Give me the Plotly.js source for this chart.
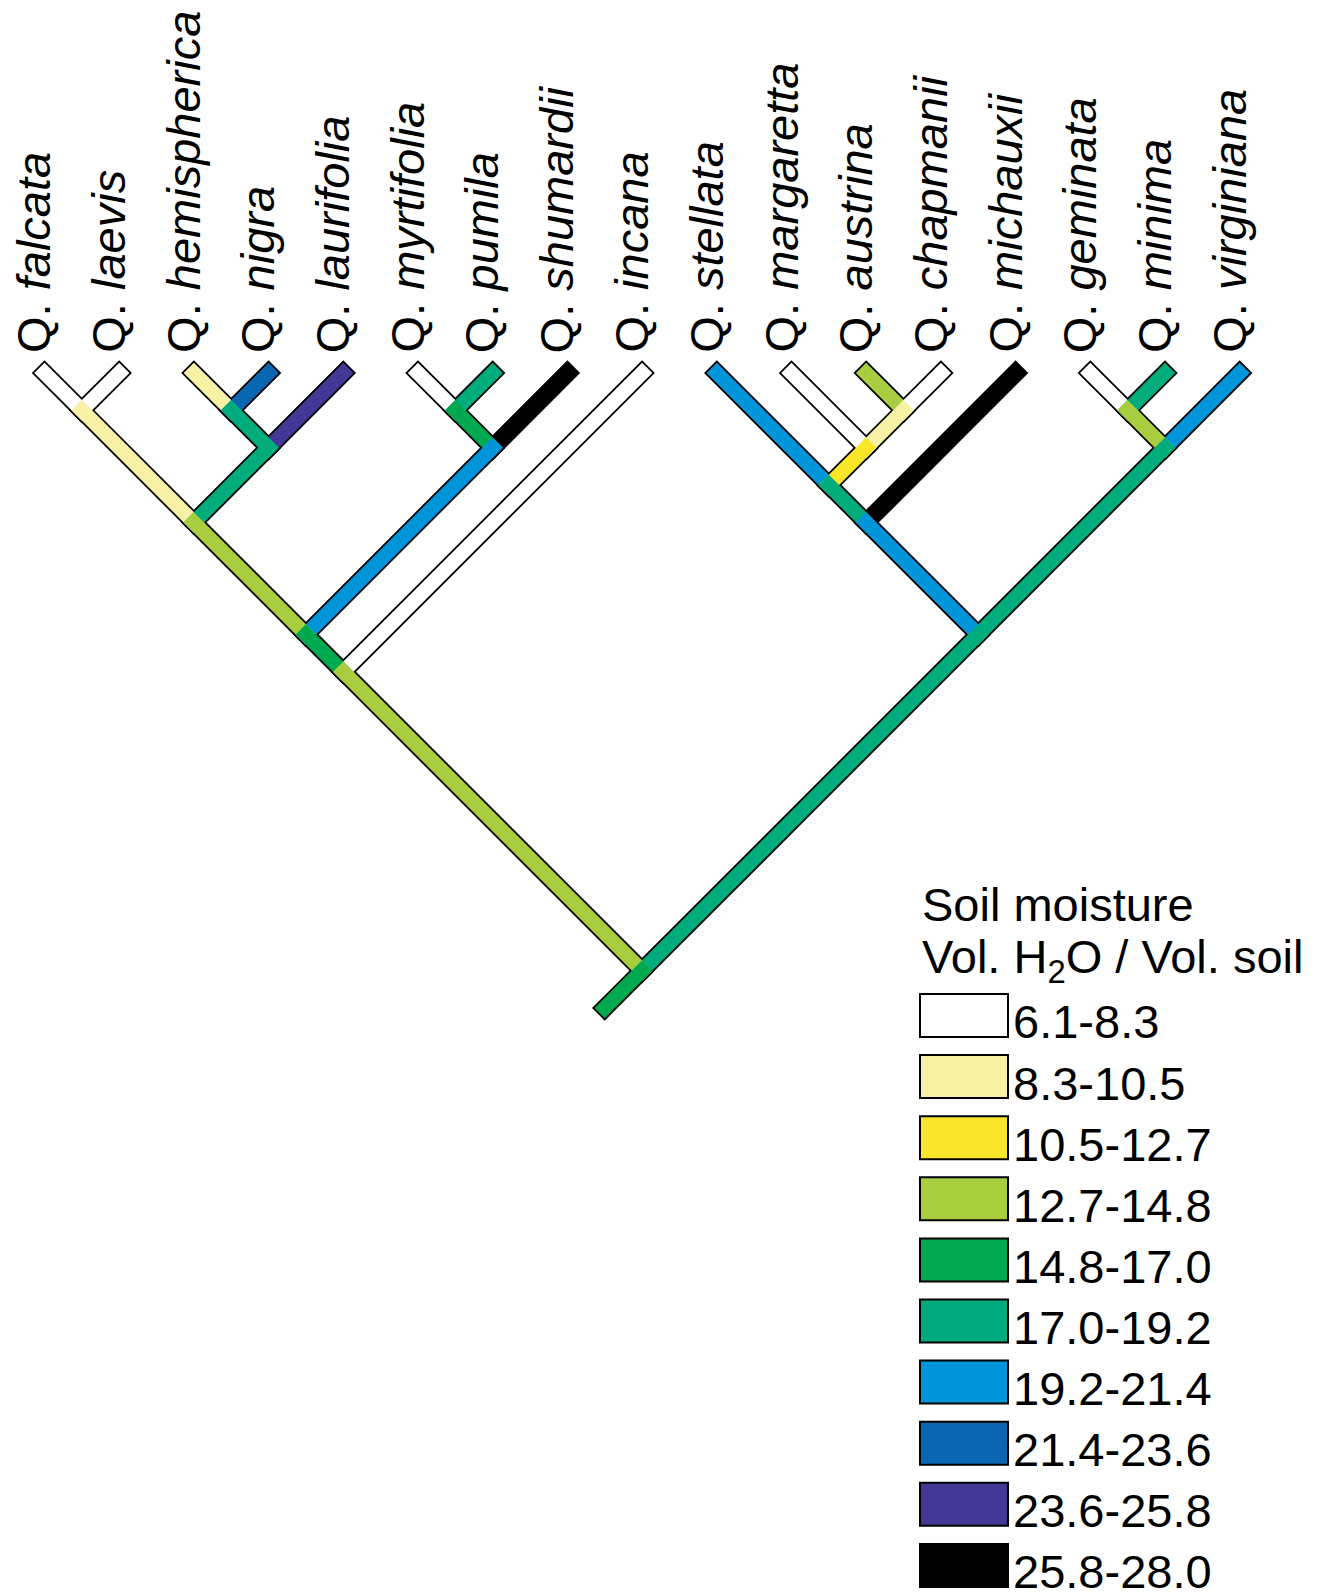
<!DOCTYPE html>
<html>
<head>
<meta charset="utf-8">
<script src="https://cdn.plot.ly/plotly-3.0.1.min.js"></script>
<style>
html,body{margin:0;padding:0;background:#ffffff;}
#chart{width:1324px;height:1593px;}
</style>
</head>
<body>
<div id="chart"></div>
<script>
// ---------------- DATA ----------------
// Tips (left to right) and their soil-moisture class (index into binLabels)
const species = ["falcata","laevis","hemispherica","nigra","laurifolia","myrtifolia","pumila","shumardii","incana",
                 "stellata","margaretta","austrina","chapmanii","michauxii","geminata","minima","virginiana"];
const tipBin  = [0,0,1,7,8,0,5,9,0,6,0,3,0,9,0,5,6];
// Topology; the number after each ")" is the reconstructed class of that internal node
const treeNewick = "(((((falcata,laevis)1,((hemispherica,nigra)5,laurifolia)5)3,((myrtifolia,pumila)4,shumardii)6)4,incana)3," +
                   "(((stellata,(margaretta,(austrina,chapmanii)1)2)5,michauxii)6,((geminata,minima)3,virginiana)5)5)4";
// Legend classes
const binLabels = ["6.1-8.3","8.3-10.5","10.5-12.7","12.7-14.8","14.8-17.0","17.0-19.2","19.2-21.4","21.4-23.6","23.6-25.8","25.8-28.0"];
const binColors = ["#FFFFFF","#F7F1A6","#F9E629","#A8CD3E","#00A94F","#00AB7C","#0094D8","#0B66B2","#433896","#000000"];
const legendTitle = ["Soil moisture","Vol. H<sub>2</sub>O / Vol. soil"];
const genus = "Q.";

// ---------------- LAYOUT CONSTANTS ----------------
const W = 1324, H = 1593;
const U = 74.7;            // px per tip spacing (same in both directions -> 45 degree branches)
const X0 = 44.5, Y0 = 373; // pixel position of first tip
const FILL_W = 14.5, OUT_W = 18;
const STEM = 0.5;          // root stem length (tip units)
const FONT = "Liberation Sans, Arial, Helvetica, sans-serif";
const FS = 47;

// ---------------- TREE ----------------
function parseNewick(str){
  let i = 0;
  function readNode(){
    if(str[i] === '('){
      i++;
      const kids = [readNode()];
      while(str[i] === ','){ i++; kids.push(readNode()); }
      i++; // ')'
      let lab = '';
      while(i < str.length && /[0-9]/.test(str[i])) lab += str[i++];
      return {kids: kids, bin: Number(lab)};
    }
    let name = '';
    while(i < str.length && /[A-Za-z]/.test(str[i])) name += str[i++];
    const t = species.indexOf(name);
    return {kids: [], tip: t, bin: tipBin[t]};
  }
  return readNode();
}
const root = parseNewick(treeNewick);
const allNodes = [];
function place(n, parent){
  n.parent = parent;
  if(n.kids.length === 0){ n.lo = n.tip; n.hi = n.tip; }
  else {
    n.kids.forEach(k => place(k, n));
    n.lo = Math.min.apply(null, n.kids.map(k => k.lo));
    n.hi = Math.max.apply(null, n.kids.map(k => k.hi));
  }
  n.x = (n.lo + n.hi) / 2;
  n.d = (n.hi - n.lo) / 2;
  allNodes.push(n);
}
place(root, null);

const edges = [];
allNodes.forEach(n => {
  if(n.parent) edges.push({x0: n.parent.x, d0: n.parent.d, x1: n.x, d1: n.d, bin: n.bin, order: n.d});
});
edges.push({x0: root.x - STEM, d0: root.d + STEM, x1: root.x, d1: root.d, bin: root.bin, order: Infinity});
edges.sort((a, b) => a.order - b.order);

function seg(e, w){
  const dx = e.x1 - e.x0, dd = e.d1 - e.d0, L = Math.hypot(dx, dd);
  const ext = (w / 2) / U, ux = dx / L, ud = dd / L;
  return {x: [e.x0 - ux * ext, e.x1 + ux * ext], y: [e.d0 - ud * ext, e.d1 + ud * ext]};
}

const traces = [];
// black outline underlay
const ox = [], oy = [];
edges.forEach(e => { const s = seg(e, OUT_W); ox.push(s.x[0], s.x[1], null); oy.push(s.y[0], s.y[1], null); });
traces.push({type: 'scatter', mode: 'lines', x: ox, y: oy, line: {color: '#000000', width: OUT_W}, hoverinfo: 'skip', connectgaps: false});
// coloured fills (tips first, root last so every node shows its own class)
edges.forEach(e => {
  const s = seg(e, FILL_W);
  traces.push({type: 'scatter', mode: 'lines', x: s.x, y: s.y, line: {color: binColors[e.bin], width: FILL_W}, hoverinfo: 'skip'});
});

// ---------------- TEXT & LEGEND ----------------
const annotations = [];
const LABEL_DX = -11 / U;
const LABEL_BOTTOM = (355 - Y0) / U;
species.forEach((sp, i) => {
  annotations.push({x: i + LABEL_DX, y: LABEL_BOTTOM, xref: 'x', yref: 'y', text: genus + " <i>" + sp + "</i>",
    textangle: -90, xanchor: 'center', yanchor: 'bottom', showarrow: false,
    font: {family: FONT, size: FS, color: '#000000'}});
});

const px = v => v / W, py = v => 1 - v / H;
const LEG_X = 920, LEG_BOX_W = 88, LEG_TOP = 994, LEG_STEP = 61.1, LEG_BOX_H = 43;
const shapes = [];
binLabels.forEach((lab, i) => {
  const top = LEG_TOP + LEG_STEP * i;
  shapes.push({type: 'rect', xref: 'paper', yref: 'paper', x0: px(LEG_X), x1: px(LEG_X + LEG_BOX_W),
    y0: py(top), y1: py(top + LEG_BOX_H), fillcolor: binColors[i], line: {color: '#000000', width: 2}});
  annotations.push({x: px(1011), y: py(top + LEG_BOX_H - 43.5), xref: 'paper', yref: 'paper', text: lab,
    xanchor: 'left', yanchor: 'top', showarrow: false, font: {family: FONT, size: FS, color: '#000000'}});
});
const titleTops = [876, 928];
legendTitle.forEach((t, i) => {
  annotations.push({x: px(919.5), y: py(titleTops[i]), xref: 'paper', yref: 'paper', text: t,
    xanchor: 'left', yanchor: 'top', showarrow: false, font: {family: FONT, size: FS, color: '#000000'}});
});

const layout = {
  width: W, height: H,
  margin: {l: 0, r: 0, t: 0, b: 0, pad: 0},
  paper_bgcolor: '#ffffff', plot_bgcolor: '#ffffff',
  showlegend: false,
  xaxis: {range: [-X0 / U, (W - X0) / U], visible: false, fixedrange: true},
  yaxis: {range: [(H - Y0) / U, -Y0 / U], visible: false, fixedrange: true},
  annotations: annotations,
  shapes: shapes
};
Plotly.newPlot('chart', traces, layout, {staticPlot: true, displayModeBar: false});
</script>
</body>
</html>
